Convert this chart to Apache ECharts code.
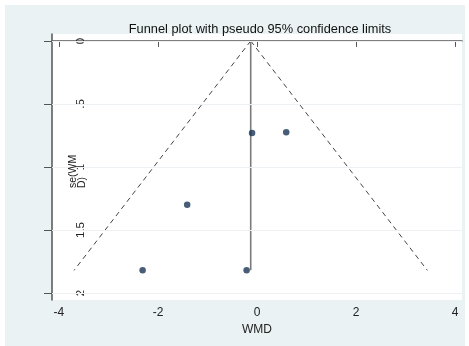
<!DOCTYPE html>
<html><head><meta charset="utf-8">
<script src="https://cdn.jsdelivr.net/npm/echarts@6/dist/echarts.min.js"></script>
<style>html,body{margin:0;padding:0;background:#fff}#c{width:469px;height:346px}</style>
</head><body><div id="c"></div>
<script>
// Study data: WMD (x) and se(WMD) (y)
const wmd = [-0.10, 0.59, -1.41, -2.31, -0.21];
const seWmd = [0.73, 0.725, 1.30, 1.82, 1.82];
const pooled = -0.127;
const seMax = 1.82;
const xTicks = [-4, -2, 0, 2, 4];
const yTicks = [0, 0.5, 1, 1.5, 2];
const yTickLabels = ['0', '.5', '1', '1.5', '2'];

const leftLimit = [[pooled, 0], [pooled - 1.96 * seMax, seMax]];
const rightLimit = [[pooled, 0], [pooled + 1.96 * seMax, seMax]];
const pooledLine = [[pooled, 0], [pooled, seMax]];

const chart = echarts.init(document.getElementById('c'), null, {renderer: 'canvas'});
const font = 'Liberation Sans, Arial, sans-serif';
chart.setOption({
  animation: false,
  backgroundColor: '#ffffff',
  graphic: [
    {type: 'rect', z: -10, shape: {x: 5, y: 5, width: 460, height: 341}, style: {fill: '#EAF2F3'}},
    {type: 'text', x: 77.5, y: 188, rotation: Math.PI / 2, z: 10,
     style: {text: 'se(WM\nD)', fill: '#222', font: '10.5px ' + font, align: 'left', verticalAlign: 'middle', lineHeight: 9}}
  ],
  title: {
    text: 'Funnel plot with pseudo 95% confidence limits',
    left: 255, top: 18, textAlign: 'center',
    textStyle: {fontFamily: font, fontSize: 12.8, fontWeight: 'normal', color: '#111'}
  },
  grid: {left: 52, right: 7, top: 34, bottom: 46, show: true, backgroundColor: '#ffffff', borderWidth: 0},
  xAxis: {
    type: 'value', min: -4.14, max: 4.14,
    name: 'WMD', nameLocation: 'middle', nameGap: 21,
    nameTextStyle: {fontFamily: font, fontSize: 12, color: '#222'},
    axisLine: {show: true, lineStyle: {color: '#555', width: 1.5}},
    axisTick: {show: true, length: 6, customValues: xTicks, lineStyle: {color: '#555'}},
    axisLabel: {customValues: xTicks, fontFamily: font, fontSize: 12, color: '#222', margin: 7,
      formatter: v => String(v)},
    splitLine: {show: false}
  },
  yAxis: {
    type: 'value', min: -0.055, max: 2.055, inverse: true,
    axisLine: {show: true, onZero: false, lineStyle: {color: '#555', width: 1.5}},
    axisTick: {show: true, length: 8, customValues: yTicks, lineStyle: {color: '#555'}},
    axisLabel: {customValues: yTicks, rotate: 90, inside: true, margin: 23,
      fontFamily: font, fontSize: 11.5, color: '#222',
      formatter: v => yTickLabels[yTicks.indexOf(Math.round(v * 10) / 10)]},
    splitLine: {show: false}
  },
  series: [
    {type: 'line', data: yTicks.map(v => [0, v]), symbol: 'none', lineStyle: {width: 0}, silent: true,
     markLine: {silent: true, symbol: 'none', label: {show: false},
       lineStyle: {color: '#EDF1F3', width: 1.2, type: 'solid'},
       data: yTicks.map(v => ({yAxis: v}))}},
    {type: 'line', data: leftLimit, symbol: 'none', lineStyle: {color: '#444', width: 1, type: [5, 4]}},
    {type: 'line', data: rightLimit, symbol: 'none', lineStyle: {color: '#444', width: 1, type: [5, 4]}},
    {type: 'line', data: pooledLine, symbol: 'none', lineStyle: {color: '#7a7a7a', width: 1.6}},
    {type: 'scatter', data: wmd.map((x, i) => [x, seWmd[i]]), symbolSize: 6.5,
     itemStyle: {color: '#1A3656'}, z: 5}
  ]
});
</script></body></html>
